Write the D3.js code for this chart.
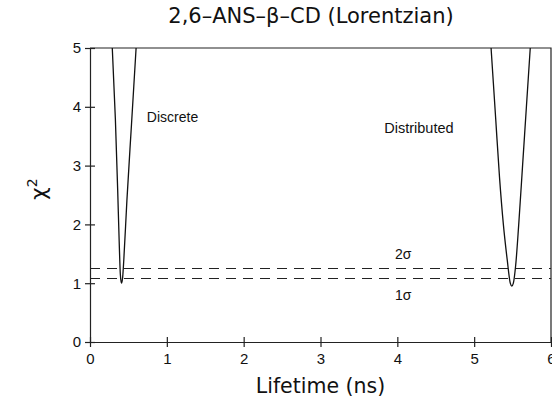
<!DOCTYPE html>
<html>
<head>
<meta charset="utf-8">
<script src="https://cdn.jsdelivr.net/npm/d3@7"></script>
<style>
  body { margin: 0; background: #fff; }
  text { font-family: "DejaVu Sans", sans-serif; fill: #111; }
</style>
</head>
<body>
<div id="chart"></div>
<script>
// curves (lifetime in ns, chi-square)
const discreteX = [0.29, 0.33, 0.36, 0.38, 0.395, 0.41, 0.425, 0.44, 0.48, 0.54, 0.60];
const discreteY = [5, 3.8, 2.6, 1.7, 1.15, 1.0, 1.1, 1.4, 2.4, 3.7, 5];
const distribX = [5.22, 5.28, 5.33, 5.38, 5.43, 5.47, 5.49, 5.51, 5.54, 5.58, 5.63, 5.68, 5.73];
const distribY = [5, 3.8, 2.8, 2.0, 1.4, 1.0, 0.95, 1.0, 1.3, 2.0, 3.0, 4.0, 5];

// confidence levels
const sigmaNames = ["1σ", "2σ"];
const sigmaLevels = [1.08, 1.25];

const xTicks = [0, 1, 2, 3, 4, 5, 6];
const yTicks = [0, 1, 2, 3, 4, 5];

// set the dimensions and margins of the graph
const margin = { top: 48, right: 1, bottom: 65, left: 90 };
const width = 552 - margin.left - margin.right;
const height = 407 - margin.top - margin.bottom;

const svg = d3.select("#chart")
  .append("svg")
  .attr("width", 552)
  .attr("height", 407)
  .append("g")
  .attr("transform", `translate(${margin.left}, ${margin.top})`);

const x = d3.scaleLinear().domain([0, 6]).range([0, width]);
const y = d3.scaleLinear().domain([0, 5]).range([height, 0]);

// frame (top + right)
svg.append("path")
  .attr("d", `M0,0H${width}V${height}`)
  .attr("fill", "none")
  .attr("stroke", "#222")
  .attr("stroke-width", 1.2);

// axes with ticks crossing the line
const xAxis = svg.append("g")
  .attr("transform", `translate(0, ${height})`)
  .call(d3.axisBottom(x).tickValues(xTicks).tickFormat(d3.format("d"))
    .tickSize(5).tickSizeOuter(0).tickPadding(6));
xAxis.selectAll(".tick line").attr("y1", -5).attr("y2", 5);

const yAxis = svg.append("g")
  .call(d3.axisLeft(y).tickValues(yTicks).tickFormat(d3.format("d"))
    .tickSize(5).tickSizeOuter(0).tickPadding(4));
yAxis.selectAll(".tick line").attr("x1", -5).attr("x2", 5);

[xAxis, yAxis].forEach(a => {
  a.select(".domain").attr("stroke", "#222").attr("stroke-width", 1.2);
  a.selectAll(".tick line").attr("stroke", "#222").attr("stroke-width", 1.2);
  a.selectAll("text").style("font-size", "15px").attr("fill", "#111")
    .style("font-family", "Liberation Sans, sans-serif");
});

// dashed sigma lines
svg.selectAll(".sigma")
  .data(sigmaLevels)
  .join("line")
  .attr("class", "sigma")
  .attr("x1", 0)
  .attr("x2", width)
  .attr("y1", d => y(d))
  .attr("y2", d => y(d))
  .attr("stroke", "#222")
  .attr("stroke-width", 1.2)
  .attr("stroke-dasharray", "10,7");

// curves
const line = d3.line().x(d => x(d[0])).y(d => y(d[1])).curve(d3.curveMonotoneX);
[[discreteX, discreteY], [distribX, distribY]].forEach(([xs, ys]) => {
  svg.append("path")
    .datum(xs.map((v, i) => [v, ys[i]]))
    .attr("d", line)
    .attr("fill", "none")
    .attr("stroke", "#111")
    .attr("stroke-width", 1.3);
});

// annotations
const note = (txt, vx, vy, fs) => svg.append("text")
  .attr("x", x(vx)).attr("y", y(vy))
  .style("font-size", fs).style("font-family", "Liberation Sans, sans-serif")
  .text(txt);
note("Discrete", 0.74, 3.74, "14px");
note("Distributed", 3.83, 3.56, "14.5px");
note(sigmaNames[1], 3.97, 1.41, "14px");
note(sigmaNames[0], 3.97, 0.71, "14px");

// title
svg.append("text")
  .attr("x", 221)
  .attr("y", -25)
  .attr("text-anchor", "middle")
  .style("font-size", "21px")
  .text("2,6–ANS–β–CD (Lorentzian)");

// axis labels
svg.append("text")
  .attr("x", x(3))
  .attr("y", height + 51)
  .attr("text-anchor", "middle")
  .style("font-size", "20.5px")
  .text("Lifetime (ns)");

svg.append("text")
  .attr("transform", `translate(-44, ${y(2.6)}) rotate(-90)`)
  .attr("text-anchor", "middle")
  .style("font-size", "22px")
  .html('χ<tspan dy="-9" style="font-size:14px">2</tspan>');
</script>
</body>
</html>
